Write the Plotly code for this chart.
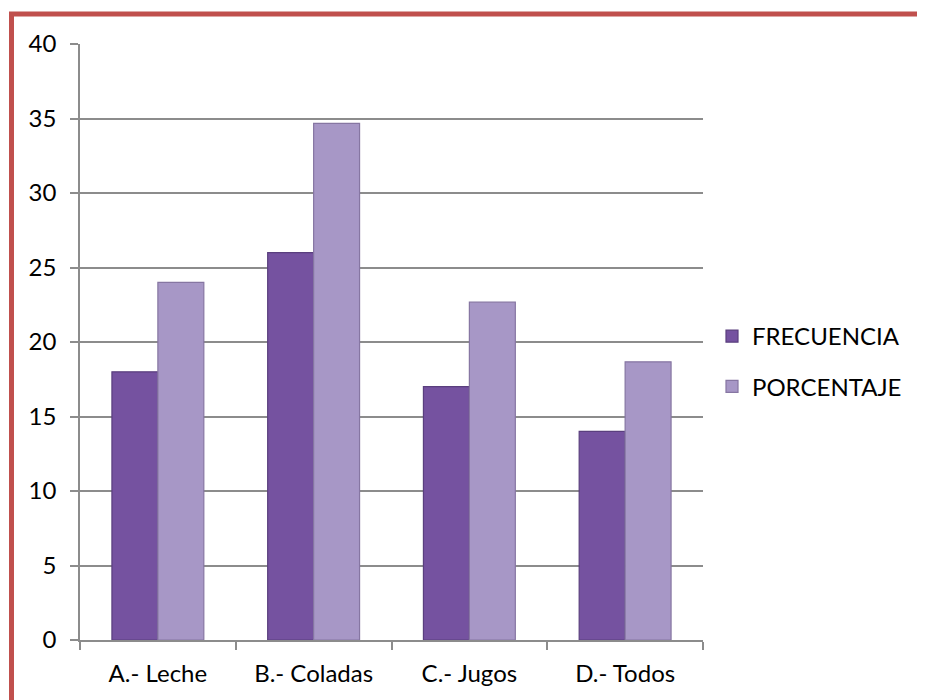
import plotly.graph_objects as go

categories = ["A.- Leche", "B.- Coladas", "C.- Jugos", "D.- Todos"]
frecuencia = [18, 26, 17, 14]
porcentaje = [24, 34.67, 22.67, 18.67]
series_names = ["FRECUENCIA", "PORCENTAJE"]
y_ticks = [0, 5, 10, 15, 20, 25, 30, 35, 40]

W, H = 925, 700
L, R, T, B = 72, 230, 36, 68
pw, ph = W - L - R, H - T - B

def px_x(x):
    return (x - L) / pw

def px_y(y):
    return (H - B - y) / ph

fig = go.Figure()
fig.add_trace(go.Bar(
    x=categories, y=frecuencia, name=series_names[0],
    marker=dict(color="#7552a0", line=dict(color="#5a3f7e", width=1.2)),
    legendgroup="a",
))
fig.add_trace(go.Bar(
    x=categories, y=porcentaje, name=series_names[1],
    marker=dict(color="#a797c6", line=dict(color="#8676a2", width=1.2)),
    legendgroup="b",
))

border = "#c0504d"
fig.add_shape(type="line", xref="paper", yref="paper",
              x0=px_x(1), x1=px_x(940), y0=px_y(6), y1=px_y(6),
              line=dict(color=border, width=5))
fig.add_shape(type="line", xref="paper", yref="paper",
              x0=px_x(3.5), x1=px_x(3.5), y0=px_y(4), y1=px_y(720),
              line=dict(color=border, width=5))

fig.update_layout(
    width=W, height=H,
    margin=dict(l=L, r=R, t=T, b=B),
    paper_bgcolor="white", plot_bgcolor="white",
    barmode="group", bargap=0.41, bargroupgap=0,
    font=dict(family="Lato, Liberation Sans, sans-serif", size=24, color="#000000"),
    showlegend=True,
    legend=dict(x=px_x(704), y=px_y(306), xanchor="left", yanchor="top",
                font=dict(size=24), tracegroupgap=16, itemwidth=30,
                bgcolor="rgba(0,0,0,0)"),
    xaxis=dict(showline=True, linecolor="#8c8c8c", linewidth=1.5,
               ticks="outside", tickson="boundaries", ticklen=8,
               tickcolor="#8c8c8c", tickwidth=1.5, showgrid=False,
               tickfont=dict(size=24), ticklabelstandoff=11),
    yaxis=dict(range=[0, 40], tickvals=y_ticks, showline=True,
               linecolor="#8c8c8c", linewidth=1.5, ticks="outside",
               ticklen=8, tickcolor="#8c8c8c", tickwidth=1.5,
               showgrid=True, gridcolor="#8c8c8c", gridwidth=1.5,
               zeroline=False, tickfont=dict(size=24), ticklabelstandoff=9),
)

fig.write_html("out.html")
